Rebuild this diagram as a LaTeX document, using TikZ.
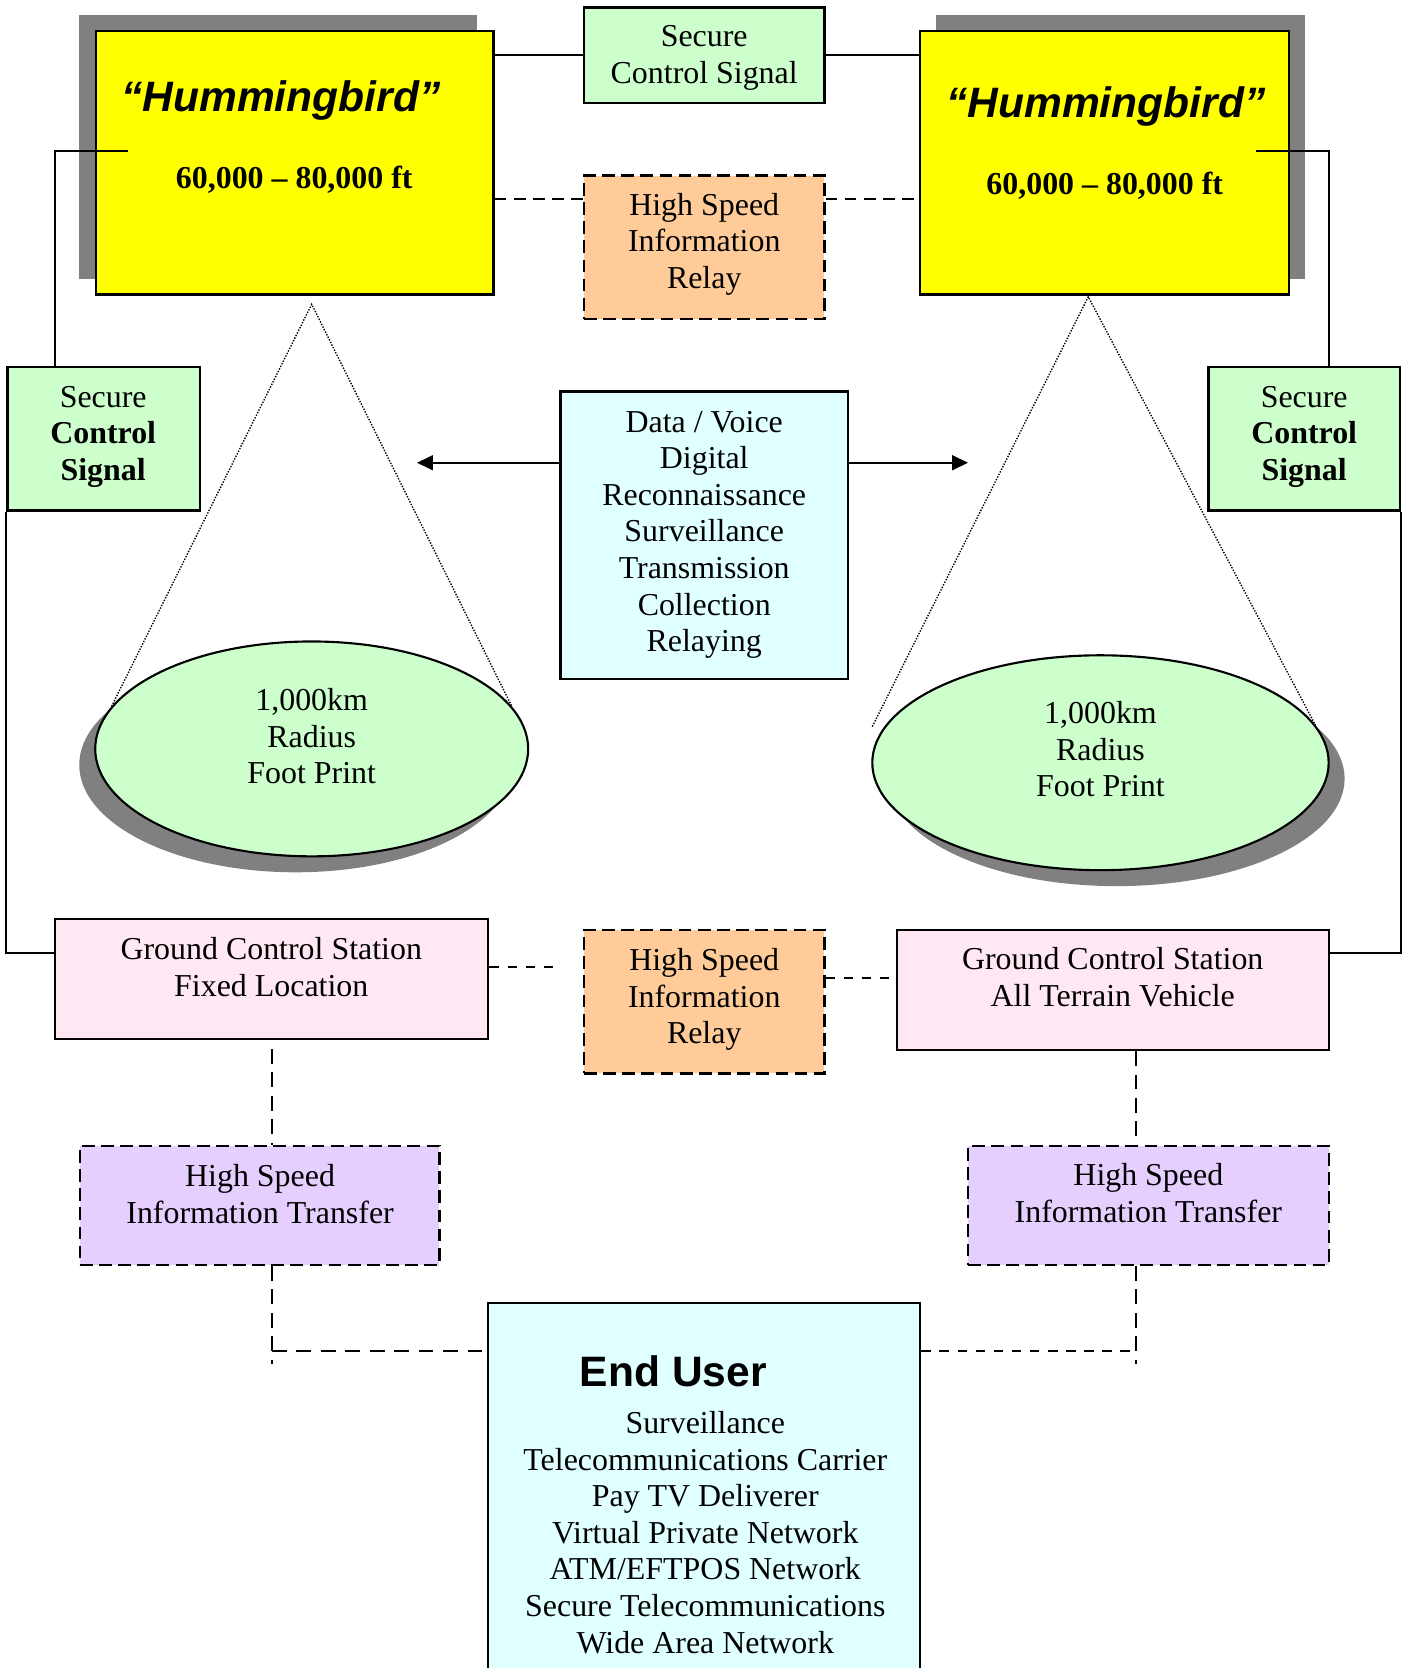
\documentclass[tikz,border=0pt]{standalone}
\usepackage{fontspec}
\setmainfont{Liberation Serif}
\newfontfamily\arialfont{Liberation Sans}
\usetikzlibrary{shapes.geometric,arrows.meta}
\definecolor{hbyellow}{HTML}{FFFF00}
\definecolor{shadowgray}{HTML}{808080}
\definecolor{sgreen}{HTML}{CCFFCC}
\definecolor{rorange}{HTML}{FFCC99}
\definecolor{dcyan}{HTML}{E0FFFF}
\definecolor{gpink}{HTML}{FFE8F3}
\definecolor{tpurple}{HTML}{E5CFFF}
\newcommand\fstrut{\rule{0pt}{22pt}}
\begin{document}
\begin{tikzpicture}[x=1pt,y=-1pt,
 boxst/.style={draw=black, line width=2.2pt, rectangle, inner sep=0pt},
 dboxst/.style={boxst, dash pattern=on 12pt off 6pt},
 shadowst/.style={fill=shadowgray, inner sep=0pt},
 txtst/.style={font=\fontsize{30}{34.4}\selectfont, inner sep=0pt, align=center, anchor=north},
 ttlst/.style={font=\arialfont\bfseries\itshape\fontsize{40}{46}\selectfont, inner sep=0pt, anchor=base},
 altst/.style={font=\bfseries\fontsize{30}{34.4}\selectfont, inner sep=0pt, anchor=base},
 linkst/.style={draw=black, line width=1.8pt},
 dlinkA/.style={linkst, dash pattern=on 11pt off 7pt},
 dlinkB/.style={linkst, dash pattern=on 14pt off 8pt},
 dlinkC/.style={linkst, dash pattern=on 9pt off 8pt},
 dlinkD/.style={linkst, dash pattern=on 14pt off 9pt},
 dotst/.style={draw=black, line width=1.3pt, dash pattern=on 1.3pt off 1.4pt},
 arrowst/.style={linkst, -{Triangle[length=15pt,width=14pt]}},
]
\useasboundingbox (0,0) rectangle (1324,1568);
\clip (0,0) rectangle (1324,1568);

% Hummingbird boxes with shadows
\node[shadowst, minimum width=374pt, minimum height=248pt] (lhS) at (261,138) {};
\node[boxst, fill=hbyellow, minimum width=374pt, minimum height=248pt] (lh) at (277,153) {};
\node[shadowst, minimum width=347pt, minimum height=248pt] (rhS) at (1053.5,138) {};
\node[boxst, fill=hbyellow, minimum width=347pt, minimum height=248pt] (rh) at (1038.5,153) {};
\node[ttlst] (lhT) at (264,105) {“Hummingbird”};
\node[altst] (lhA) at (276.6,177) {60,000 – 80,000 ft};
\node[ttlst] (rhT) at (1039.5,110.3) {“Hummingbird”};
\node[altst] (rhA) at (1038.5,182.6) {60,000 – 80,000 ft};

% top secure control signal
\node[boxst, fill=sgreen, minimum width=226pt, minimum height=90pt] (sc) at (662,52) {};
\node[txtst] (scT) at (662,21.9) {\fstrut Secure\\Control Signal};

% top relay
\node[dboxst, fill=rorange, minimum width=226pt, minimum height=135pt] (rel1) at (662,232.5) {};
\node[txtst] (rel1T) at (662,180) {\fstrut High Speed\\Information\\Relay};

% side secure boxes
\node[boxst, fill=sgreen, minimum width=181pt, minimum height=135pt] (lsc) at (97.5,412.5) {};
\node[txtst] (lscT) at (97,360.4) {\fstrut Secure\\\textbf{Control}\\\textbf{Signal}};
\node[boxst, fill=sgreen, minimum width=180pt, minimum height=135pt] (rsc) at (1226,412.5) {};
\node[txtst] (rscT) at (1226,360.4) {\fstrut Secure\\\textbf{Control}\\\textbf{Signal}};

% data box
\node[boxst, fill=dcyan, minimum width=270pt, minimum height=270pt] (data) at (662,503) {};
\node[txtst] (dataT) at (662,384) {\fstrut Data / Voice\\Digital\\Reconnaissance\\Surveillance\\Transmission\\Collection\\Relaying};

% footprints
\node[ellipse, fill=shadowgray, inner sep=0pt, minimum width=407pt, minimum height=202pt] (ell1S) at (278,719) {};
\node[ellipse, draw=black, line width=2pt, fill=sgreen, inner sep=0pt, minimum width=407pt, minimum height=202pt] (ell1) at (293,704) {};
\node[txtst] (ell1T) at (293,645.7) {\fstrut 1,000km\\Radius\\Foot Print};
\node[ellipse, fill=shadowgray, inner sep=0pt, minimum width=429pt, minimum height=202pt] (ell2S) at (1049.5,732) {};
\node[ellipse, draw=black, line width=2pt, fill=sgreen, inner sep=0pt, minimum width=429pt, minimum height=202pt] (ell2) at (1034.5,717) {};
\node[txtst] (ell2T) at (1034.5,658.2) {\fstrut 1,000km\\Radius\\Foot Print};

% ground control stations
\node[boxst, fill=gpink, minimum width=407pt, minimum height=113pt] (gcs1) at (255.5,920.5) {};
\node[txtst] (gcs1T) at (255,879.8) {\fstrut Ground Control Station\\Fixed Location};
\node[boxst, fill=gpink, minimum width=406pt, minimum height=113pt] (gcs2) at (1046,930.5) {};
\node[txtst] (gcs2T) at (1046,889.5) {\fstrut Ground Control Station\\All Terrain Vehicle};

% bottom relay
\node[dboxst, fill=rorange, minimum width=226pt, minimum height=135pt] (rel2) at (662,941.5) {};
\node[txtst] (rel2T) at (662,890.2) {\fstrut High Speed\\Information\\Relay};

% transfer boxes
\node[dboxst, fill=tpurple, minimum width=338pt, minimum height=112pt] (pur1) at (244,1133) {};
\node[txtst] (pur1T) at (244.5,1093.3) {\fstrut High Speed\\Information Transfer};
\node[dboxst, fill=tpurple, minimum width=339pt, minimum height=112pt] (pur2) at (1079.5,1133) {};
\node[txtst] (pur2T) at (1079.5,1092.4) {\fstrut High Speed\\Information Transfer};

% end user
\node[boxst, fill=dcyan, minimum width=406pt, minimum height=375pt] (eu) at (662,1412.5) {};
\node[font=\arialfont\bfseries\fontsize{40}{46}\selectfont, inner sep=0pt, anchor=base] (euH) at (633,1303.4) {End User};
\node[txtst] (euT) at (663,1325.3) {\fstrut Surveillance\\Telecommunications Carrier\\Pay TV Deliverer\\Virtual Private Network\\ATM/EFTPOS Network\\Secure Telecommunications\\Wide Area Network};

% ---- connectors ----
\draw[linkst] (sc.west) -- (sc.west -| lh.east);
\draw[linkst] (sc.east) -- (sc.east -| rh.west);

\coordinate (r1y) at (662,187);
\draw[dlinkA] (lh.east |- r1y) -- (rel1.west |- r1y);
\draw[dlinkA] (rel1.east |- r1y) -- (rh.west |- r1y);

\coordinate (lcA) at (120,142);
\draw[linkst] (lcA) -| ([xshift=-45.5pt]lsc.north);
\coordinate (rcA) at (1181,142);
\draw[linkst] (rcA) -| ([xshift=23pt]rsc.north);

\draw[linkst] (lsc.south west) |- ([yshift=24.5pt]gcs1.west);
\draw[linkst] (rsc.south east) |- ([yshift=34.5pt]gcs2.east);

\coordinate (arL) at (392,435);
\coordinate (arR) at (910,435);
\draw[arrowst] (data.west |- arL) -- (arL);
\draw[arrowst] (data.east |- arR) -- (arR);

\coordinate (apL) at (293,286);
\draw[dotst] (ell1.168) -- (apL) -- (ell1.12);
\coordinate (apR) at (1023,279);
\coordinate (dR) at (820,683);
\draw[dotst] (dR) -- (apR) -- (ell2.10);

\coordinate (gL) at (527,909);
\draw[dlinkC] (gcs1.east |- gL) -- (gL);
\draw[dlinkC] ([yshift=22.5pt]rel2.east) -- ([yshift=11.5pt]gcs2.west);

\coordinate (vL) at (255.5,986);
\draw[dlinkB] (vL) -- (vL |- pur1.north);
\draw[dlinkB] ([xshift=22pt]gcs2.south) -- ([xshift=22pt]gcs2.south |- pur2.north);

\coordinate (bL) at (255.5,1282);
\coordinate (hL) at (255.5,1270);
\draw[dlinkB] (pur1.south -| bL) -- (bL);
\draw[dlinkD] (hL) -- (hL -| eu.west);
\coordinate (bR) at (1068,1282);
\coordinate (hR) at (1068,1270);
\draw[dlinkB] (pur2.south -| bR) -- (bR);
\draw[dlinkC] (eu.east |- hR) -- (hR);
\end{tikzpicture}
\end{document}
